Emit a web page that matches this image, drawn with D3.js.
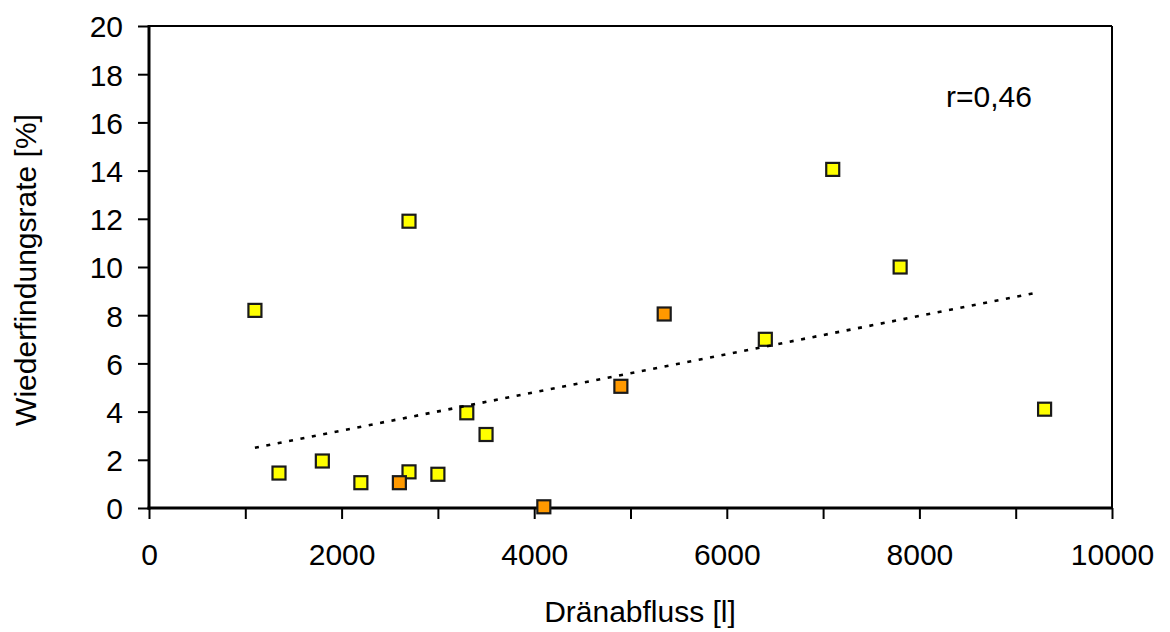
<!DOCTYPE html>
<html>
<head>
<meta charset="utf-8">
<script src="https://cdn.jsdelivr.net/npm/d3@7"></script>
<style>
  html, body { margin: 0; padding: 0; background: #fff; }
  svg text { font-family: "Liberation Sans", Arial, sans-serif; fill: #000; }
</style>
</head>
<body>
<svg id="chart" width="1170" height="632"></svg>
<script>
// Data
const yellowX = [1100, 1350, 1800, 2200, 2700, 2700, 3000, 3300, 3500, 6400, 7100, 7800, 9300];
const yellowY = [8.2, 1.45, 1.95, 1.05, 1.5, 11.9, 1.4, 3.95, 3.05, 7.0, 14.05, 10.0, 4.1];
const orangeX = [2600, 4100, 4900, 5350];
const orangeY = [1.05, 0.05, 5.05, 8.05];
const trendX = [1100, 9200];
const trendY = [2.5, 8.92];
const xTicks = [0, 1000, 2000, 3000, 4000, 5000, 6000, 7000, 8000, 9000, 10000];
const xTickLabels = ["0", "", "2000", "", "4000", "", "6000", "", "8000", "", "10000"];
const yTicks = [0, 2, 4, 6, 8, 10, 12, 14, 16, 18, 20];
const xTitle = "Dränabfluss [l]";
const yTitle = "Wiederfindungsrate [%]";
const annotation = "r=0,46";

const svg = d3.select("#chart");
const mLeft = 149, mRight = 1112, mTop = 26, mBottom = 508;
const x = d3.scaleLinear().domain([0, 10000]).range([mLeft, mRight]);
const y = d3.scaleLinear().domain([0, 20]).range([mBottom, mTop]);
const fs = 30;

// Frame (top and right)
svg.append("line").attr("x1", mLeft).attr("x2", mRight).attr("y1", mTop).attr("y2", mTop)
  .attr("stroke", "#000").attr("stroke-width", 2);
svg.append("line").attr("x1", mRight).attr("x2", mRight).attr("y1", mTop).attr("y2", mBottom)
  .attr("stroke", "#000").attr("stroke-width", 2);

// X axis
const xAxis = d3.axisBottom(x).tickValues(xTicks).tickSize(11)
  .tickFormat((d, i) => xTickLabels[i]);
const gx = svg.append("g").attr("transform", `translate(0,${mBottom})`).call(xAxis);
gx.select(".domain").remove();
gx.selectAll(".tick line").attr("stroke", "#000").attr("stroke-width", 2);
gx.selectAll(".tick text").attr("y", 57).attr("dy", 0)
  .style("font-size", fs + "px").style("font-family", "'Liberation Sans', Arial, sans-serif");

// Y axis
const yAxis = d3.axisLeft(y).tickValues(yTicks).tickSize(11).tickFormat(d3.format("d"));
const gy = svg.append("g").attr("transform", `translate(${mLeft},0)`).call(yAxis);
gy.select(".domain").remove();
gy.selectAll(".tick line").attr("stroke", "#000").attr("stroke-width", 2);
gy.selectAll(".tick text").attr("x", -26).attr("dy", "0.36em")
  .style("font-size", fs + "px").style("font-family", "'Liberation Sans', Arial, sans-serif");

// Axis lines
svg.append("line").attr("x1", mLeft).attr("x2", mLeft).attr("y1", mTop - 1).attr("y2", mBottom + 1.5)
  .attr("stroke", "#000").attr("stroke-width", 3);
svg.append("line").attr("x1", mLeft - 1.5).attr("x2", mRight).attr("y1", mBottom).attr("y2", mBottom)
  .attr("stroke", "#000").attr("stroke-width", 3);

// Markers
const ms = 13;
const yellowData = yellowX.map((v, i) => ({x: v, y: yellowY[i]}));
const orangeData = orangeX.map((v, i) => ({x: v, y: orangeY[i]}));
svg.append("g").selectAll("rect").data(yellowData).join("rect")
  .attr("x", d => x(d.x) - ms / 2).attr("y", d => y(d.y) - ms / 2)
  .attr("width", ms).attr("height", ms)
  .attr("fill", "#FFFF00").attr("stroke", "#1a1a1a").attr("stroke-width", 2.2);
svg.append("g").selectAll("rect").data(orangeData).join("rect")
  .attr("x", d => x(d.x) - ms / 2).attr("y", d => y(d.y) - ms / 2)
  .attr("width", ms).attr("height", ms)
  .attr("fill", "#FF9900").attr("stroke", "#1a1a1a").attr("stroke-width", 2.2);

// Trend line
const trend = trendX.map((v, i) => [v, trendY[i]]);
svg.append("path")
  .attr("d", d3.line().x(d => x(d[0])).y(d => y(d[1]))(trend))
  .attr("fill", "none").attr("stroke", "#000").attr("stroke-width", 2.6)
  .attr("stroke-dasharray", "4 7.6");

// Annotation
svg.append("text").attr("x", 946).attr("y", 107).style("font-size", fs + "px").text(annotation);

// Axis titles
svg.append("text").attr("x", 640).attr("y", 622).attr("text-anchor", "middle")
  .style("font-size", fs + "px").text(xTitle);
svg.append("text").attr("transform", "translate(36,270) rotate(-90)").attr("text-anchor", "middle")
  .style("font-size", fs + "px").text(yTitle);
</script>
</body>
</html>
